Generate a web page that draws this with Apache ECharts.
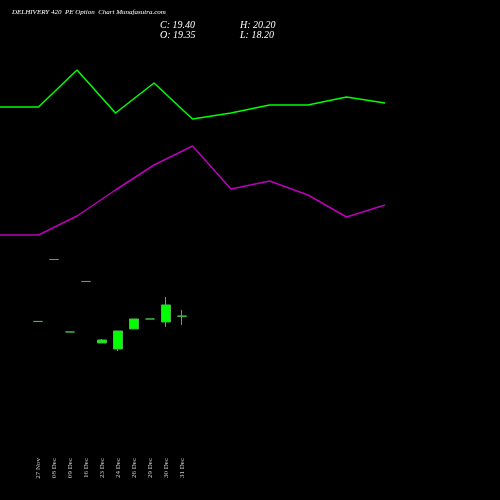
<!DOCTYPE html>
<html>
<head>
<meta charset="utf-8">
<script src="https://cdn.jsdelivr.net/npm/echarts@6/dist/echarts.min.js"></script>
<style>html,body{margin:0;background:#000}#chart{width:500px;height:500px}</style>
</head>
<body>
<div id="chart"></div>
<script>
// 蜡烛图数据 [open, close, low, high]
const dates = ['27 Nov', '08 Dec', '09 Dec', '16 Dec', '23 Dec', '24 Dec', '26 Dec', '29 Dec', '30 Dec', '31 Dec'];
const candles = [
    [18.67, 18.67, 18.67, 18.67],
    [26.93, 26.93, 26.93, 26.93],
    [17.27, 17.27, 17.27, 17.27],
    [24.0, 24.0, 24.0, 24.0],
    [15.8, 16.2, 15.8, 16.33],
    [15.0, 17.4, 14.73, 17.4],
    [17.67, 19.0, 17.67, 19.0],
    [19.0, 19.0, 19.0, 19.0],
    [18.6, 20.87, 17.93, 21.93],
    [19.35, 19.40, 18.2, 20.2]
];
// 指标线
const linePoints = ['1', '2', '3', '4', '5', '6', '7', '8', '9', '10', '11'];
const greenLine = [393, 393, 430, 387, 417, 381, 387, 395, 395, 403, 397];
const purpleLine = [265, 265, 284, 310, 335, 354, 311, 319, 305, 283, 295];

const chart = echarts.init(document.getElementById('chart'));
const txt = { fontFamily: 'Liberation Serif', fontStyle: 'italic', fill: '#fff' };

chart.setOption({
    backgroundColor: '#000',
    animation: false,
    graphic: [
        { type: 'text', left: 12, top: 9, style: Object.assign({ text: 'DELHIVERY 420  PE Option  Chart Munafasutra.com', fontSize: 7 }, txt) },
        { type: 'text', left: 160, top: 20, style: Object.assign({ text: 'C: 19.40\nO: 19.35', fontSize: 10, lineHeight: 10 }, txt) },
        { type: 'text', left: 240, top: 20, style: Object.assign({ text: 'H: 20.20\nL: 18.20', fontSize: 10, lineHeight: 10 }, txt) }
    ],
    grid: [
        { left: 30, width: 160, top: 0, bottom: 50 },
        { left: 0, width: 385, top: 0, bottom: 0 }
    ],
    xAxis: [
        {
            type: 'category', data: dates, gridIndex: 0,
            axisLine: { show: false }, axisTick: { show: false },
            axisLabel: { rotate: 90, color: '#ccc', fontSize: 7, fontFamily: 'Liberation Serif', interval: 0 }
        },
        { type: 'category', data: linePoints, gridIndex: 1, boundaryGap: false, show: false }
    ],
    yAxis: [
        { type: 'value', gridIndex: 0, min: 1.53, max: 61.53, show: false },
        { type: 'value', gridIndex: 1, min: 0, max: 500, show: false }
    ],
    series: [
        {
            type: 'candlestick', data: candles, xAxisIndex: 0, yAxisIndex: 0, barWidth: 9,
            itemStyle: { color: '#00ff00', color0: '#00ff00', borderColor: '#44bb44', borderColor0: '#44bb44' }
        },
        {
            type: 'line', data: greenLine, xAxisIndex: 1, yAxisIndex: 1, symbol: 'none',
            lineStyle: { color: '#00ff00', width: 1.5 }
        },
        {
            type: 'line', data: purpleLine, xAxisIndex: 1, yAxisIndex: 1, symbol: 'none',
            lineStyle: { color: '#bb00bb', width: 1.5 }
        }
    ]
});
</script>
</body>
</html>
